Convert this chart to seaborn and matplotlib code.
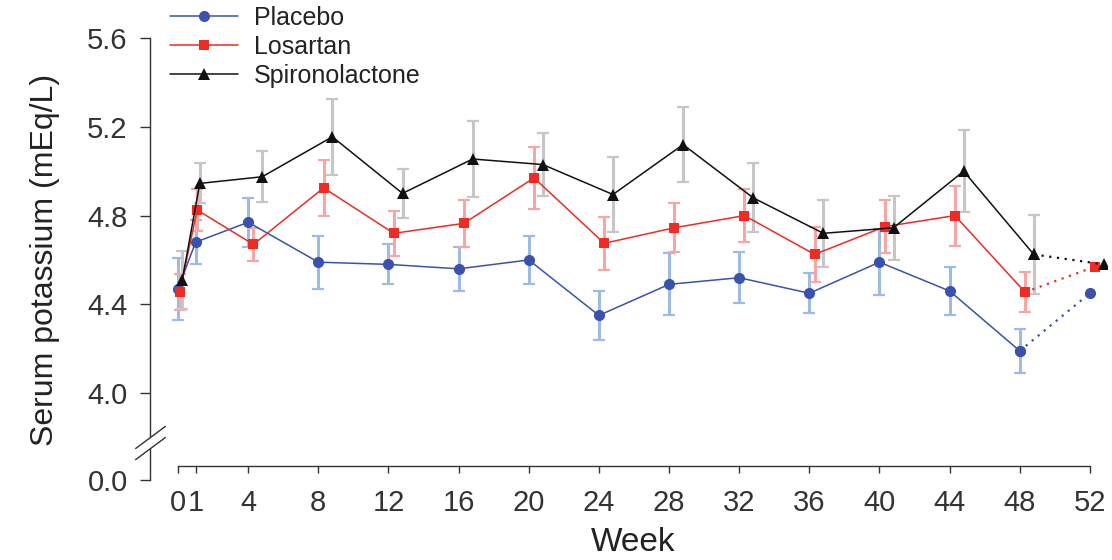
import numpy as np
import pandas as pd
import matplotlib
matplotlib.use("Agg")
import matplotlib.pyplot as plt
from matplotlib.lines import Line2D
import seaborn as sns

# Serum potassium (mEq/L) by study week, mean and error half-width per arm
weeks = [0, 1, 4, 8, 12, 16, 20, 24, 28, 32, 36, 40, 44, 48, 52]
groups = ["Placebo", "Losartan", "Spironolactone"]

placebo_mean = [4.47, 4.68, 4.77, 4.59, 4.58, 4.56, 4.60, 4.35, 4.49, 4.52, 4.45, 4.59, 4.46, 4.19, 4.45]
placebo_err = [0.14, 0.10, 0.11, 0.12, 0.09, 0.10, 0.11, 0.11, 0.14, 0.115, 0.09, 0.15, 0.11, 0.10, np.nan]

losartan_mean = [4.455, 4.825, 4.67, 4.925, 4.72, 4.765, 4.97, 4.675, 4.745, 4.80, 4.625, 4.75, 4.80, 4.455, 4.57]
losartan_err = [0.08, 0.095, 0.075, 0.125, 0.10, 0.107, 0.14, 0.12, 0.11, 0.12, 0.125, 0.12, 0.135, 0.09, np.nan]

spiro_mean = [4.51, 4.945, 4.975, 5.155, 4.90, 5.055, 5.03, 4.895, 5.12, 4.88, 4.72, 4.745, 5.0, 4.625, 4.58]
spiro_err = [0.13, 0.09, 0.115, 0.17, 0.11, 0.17, 0.14, 0.17, 0.17, 0.155, 0.15, 0.145, 0.185, 0.177, np.nan]

x_ticks = [0, 1, 4, 8, 12, 16, 20, 24, 28, 32, 36, 40, 44, 48, 52]
y_ticks = [4.0, 4.4, 4.8, 5.2, 5.6]
y_zero_label = "0.0"
last_on_treatment = 48

# Styling
line_color = {"Placebo": "#3a52ad", "Losartan": "#ee2b24", "Spironolactone": "#111111"}
err_color = {"Placebo": "#9dbbe6", "Losartan": "#f7a6a6", "Spironolactone": "#c6c6c6"}
marker = {"Placebo": "o", "Losartan": "s", "Spironolactone": "^"}
marker_size = {"Placebo": 8.0, "Losartan": 7.5, "Spironolactone": 8.0}
dodge = {"Placebo": 0.0, "Losartan": 0.3, "Spironolactone": 0.8}

means = {"Placebo": placebo_mean, "Losartan": losartan_mean, "Spironolactone": spiro_mean}
errs = {"Placebo": placebo_err, "Losartan": losartan_err, "Spironolactone": spiro_err}

rows = []
for g in groups:
    for w, m, e in zip(weeks, means[g], errs[g]):
        shift = dodge[g] * (0.3 if w <= 1 else 1.0)
        rows.append({"week": w, "xpos": w + shift, "group": g, "mean": m, "err": e})
df = pd.DataFrame(rows)

sns.set_theme(style="ticks")
plt.rcParams["font.family"] = ["Liberation Sans", "DejaVu Sans"]
plt.rcParams["text.color"] = "#222222"
plt.rcParams["axes.labelcolor"] = "#222222"
plt.rcParams["xtick.color"] = "#333333"
plt.rcParams["ytick.color"] = "#333333"

fig = plt.figure(figsize=(11.12, 5.6), dpi=100)
ax = fig.add_axes([150 / 1112, 0.1198, 0.861, 0.832])

y_bottom_pos = 3.61   # where the "0.0" label sits below the break
x_axis_pos = 3.67
break_pos = 3.775
ax.set_ylim(3.55, 5.65)
ax.set_xlim(-1.6, 53.0)

# error bars underneath the lines
for g in groups:
    sub = df[(df["group"] == g) & df["err"].notna()]
    ax.errorbar(sub["xpos"], sub["mean"], yerr=sub["err"], fmt="none",
                ecolor=err_color[g], elinewidth=2.2, capsize=4.5, capthick=1.6, zorder=1)

solid = df[df["week"] <= last_on_treatment]
tail = df[df["week"] >= last_on_treatment]

for g in groups:
    sns.lineplot(data=solid[solid["group"] == g], x="xpos", y="mean", color=line_color[g],
                 marker=marker[g], markersize=marker_size[g], markeredgewidth=0,
                 linewidth=1.1, estimator=None, sort=False, ax=ax, legend=False, zorder=3)
    sns.lineplot(data=tail[tail["group"] == g], x="xpos", y="mean", color=line_color[g],
                 marker=marker[g], markersize=marker_size[g], markeredgewidth=0,
                 linewidth=1.6, linestyle=(0, (1, 2.5)), estimator=None, sort=False,
                 ax=ax, legend=False, zorder=3)

# axes
sns.despine(ax=ax)
ax.spines["left"].set_bounds(y_bottom_pos, y_ticks[-1])
ax.spines["bottom"].set_position(("data", x_axis_pos))
ax.spines["bottom"].set_bounds(x_ticks[0], x_ticks[-1])
for s in ("left", "bottom"):
    ax.spines[s].set_color("#333333")
    ax.spines[s].set_linewidth(1.0)

ax.set_yticks([y_bottom_pos] + y_ticks)
ax.set_yticklabels([y_zero_label] + [f"{v:.1f}" for v in y_ticks])
ax.set_xticks(x_ticks)
ax.set_xticklabels([str(v) for v in x_ticks])
ax.tick_params(axis="y", labelsize=21, length=7, width=1.0, pad=9)
ax.tick_params(axis="x", labelsize=21, length=5, width=1.0, pad=11)

ax.set_xlabel("Week", fontsize=24)
ax.set_ylabel("Serum potassium (mEq/L)", fontsize=23)
ax.xaxis.set_label_coords((633 - 150) / 957.5, -0.073)
ax.yaxis.set_label_coords(-0.094, 0.5)

# axis break on the y axis
x0 = ax.get_xlim()[0]
ax.plot([x0, x0], [break_pos - 0.026, break_pos + 0.026], color="white", lw=3,
        clip_on=False, zorder=5, solid_capstyle="butt")
for dy in (-0.025, 0.025):
    ax.plot([x0 - 0.82, x0 + 0.88], [break_pos + dy - 0.05, break_pos + dy + 0.05],
            color="#333333", lw=1.0, clip_on=False, zorder=6)

handles = [Line2D([], [], color=line_color[g], marker=marker[g], markersize=marker_size[g],
                  markeredgewidth=0, linewidth=1.1) for g in groups]
fig.legend(handles, groups, loc="upper left", bbox_to_anchor=(170 / 1112, 1 - 6 / 560),
           frameon=False, fontsize=18, handlelength=2.7, handletextpad=0.65,
           labelspacing=0.2, borderpad=0, borderaxespad=0, numpoints=1)

fig.savefig("out.png", dpi=100)
